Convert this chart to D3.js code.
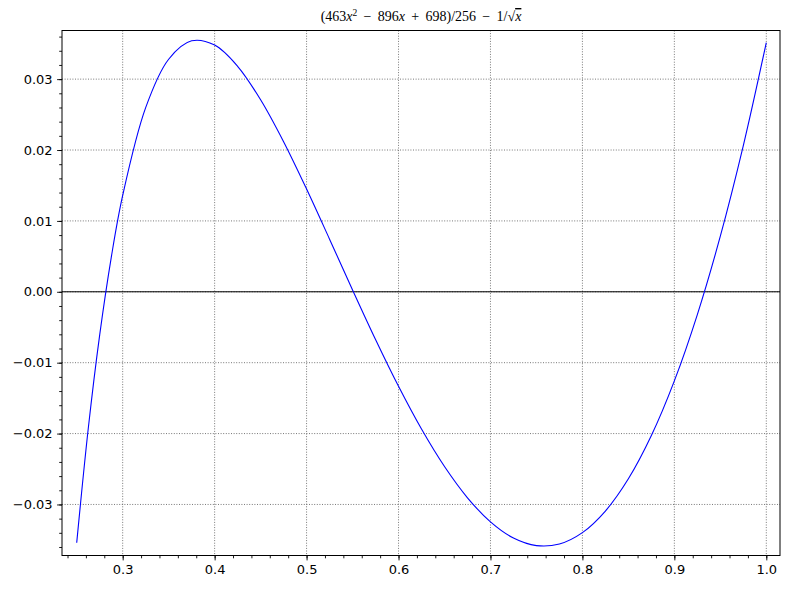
<!DOCTYPE html>
<html><head><meta charset="utf-8">
<script src="https://cdn.jsdelivr.net/npm/d3@7"></script>
<style>body{margin:0;background:#fff}</style>
</head><body>
<svg id="c" width="790" height="589"></svg>
<script>
const xs = [0.25,0.2625,0.275,0.2875,0.3,0.325,0.35,0.375,0.4,0.425,0.45,0.475,0.5,0.525,0.55,0.575,0.6,0.625,0.65,0.675,0.7,0.725,0.75,0.775,0.8,0.825,0.85,0.875,0.9,0.925,0.95,0.975,1.0];
const ys = [-0.035400,-0.019364,-0.006087,0.004794,0.013594,0.025979,0.032806,0.035403,0.034799,0.031810,0.027091,0.021174,0.014497,0.007425,0.000262,-0.006732,-0.013338,-0.019367,-0.024654,-0.029058,-0.032456,-0.034736,-0.035804,-0.035575,-0.033972,-0.030927,-0.026381,-0.020278,-0.012570,-0.003210,0.007840,0.020618,0.035156];
const xTicks = [0.3,0.4,0.5,0.6,0.7,0.8,0.9,1.0];
const xTickLabels = ["0.3","0.4","0.5","0.6","0.7","0.8","0.9","1.0"];
const yTicks = [-0.03,-0.02,-0.01,0,0.01,0.02,0.03];
const yTickLabels = ["\u22120.03","\u22120.02","\u22120.01","0.00","0.01","0.02","0.03"];

const svg = d3.select("#c");
const L=62, R=780, T=30.5, B=555.5;
const x = d3.scaleLinear().domain([0.234, 1.0149]).range([L,R]);
const y = d3.scaleLinear().domain([-0.0372, 0.03686]).range([B,T]);

const xMinor = d3.range(0.24, 1.0149, 0.02).map(v=>+v.toFixed(3));
const yMinor = d3.range(-0.036, 0.0368, 0.002).map(v=>+v.toFixed(4));

const font = "DejaVu Sans, sans-serif";
// grid
const g = svg.append("g");
xTicks.forEach(v=>{
  g.append("line").attr("x1",x(v)).attr("x2",x(v)).attr("y1",T).attr("y2",B)
   .attr("stroke","#555").attr("stroke-width",0.8).attr("stroke-dasharray","1,1.6");
});
yTicks.forEach(v=>{
  g.append("line").attr("y1",y(v)).attr("y2",y(v)).attr("x1",L).attr("x2",R)
   .attr("stroke","#555").attr("stroke-width",0.8).attr("stroke-dasharray","1,1.6");
});
// zero axis line
svg.append("line").attr("x1",L).attr("x2",R).attr("y1",y(0)).attr("y2",y(0))
  .attr("stroke","#000").attr("stroke-width",1);

// curve
const line = d3.line().x((d,i)=>x(xs[i])).y((d,i)=>y(ys[i])).curve(d3.curveCatmullRom.alpha(0.5));
svg.append("path").attr("d", line(xs)).attr("fill","none").attr("stroke","#0000ff").attr("stroke-width",1.1);

// axes
const xAxis = d3.axisBottom(x).tickValues(xTicks).tickFormat((d,i)=>xTickLabels[i]).tickSize(4.9).tickPadding(4.5);
const xAxisMinor = d3.axisBottom(x).tickValues(xMinor).tickFormat("").tickSize(2.8);
const yAxis = d3.axisLeft(y).tickValues(yTicks).tickFormat((d,i)=>yTickLabels[i]).tickSize(4.9).tickPadding(4.5);
const yAxisMinor = d3.axisLeft(y).tickValues(yMinor).tickFormat("").tickSize(2.8);

function style(sel){
  sel.select(".domain").remove();
  sel.selectAll("line").attr("stroke","#000").attr("stroke-width",0.9);
  sel.selectAll("text").attr("font-family",font).attr("font-size","13px").attr("fill","#000");
}
svg.append("g").attr("transform",`translate(0,${B})`).call(xAxisMinor).call(style);
svg.append("g").attr("transform",`translate(0,${B})`).call(xAxis).call(style);
svg.append("g").attr("transform",`translate(${L},0)`).call(yAxisMinor).call(style);
svg.append("g").attr("transform",`translate(${L},0)`).call(yAxis).call(style);

// frame
svg.append("rect").attr("x",L).attr("y",T).attr("width",R-L).attr("height",B-T)
  .attr("fill","none").attr("stroke","#000").attr("stroke-width",1);

// title
const sp = "\u2009";
const t = svg.append("text").attr("x",(L+R)/2).attr("y",21).attr("text-anchor","middle")
  .attr("font-family","Liberation Serif, serif").attr("font-size","14px").attr("fill","#000");
t.append("tspan").text("(463");
t.append("tspan").attr("font-style","italic").text("x");
t.append("tspan").attr("font-size","9.5px").attr("dy",-5.5).text("2");
t.append("tspan").attr("dy",5.5).text(" "+sp+"\u2212"+sp+" 896");
t.append("tspan").attr("font-style","italic").text("x");
t.append("tspan").text(" "+sp+"+"+sp+" 698)/256 "+sp+"\u2212"+sp+" 1/\u221A");
t.append("tspan").attr("font-style","italic").attr("text-decoration","overline").text("x");
</script>
</body></html>
